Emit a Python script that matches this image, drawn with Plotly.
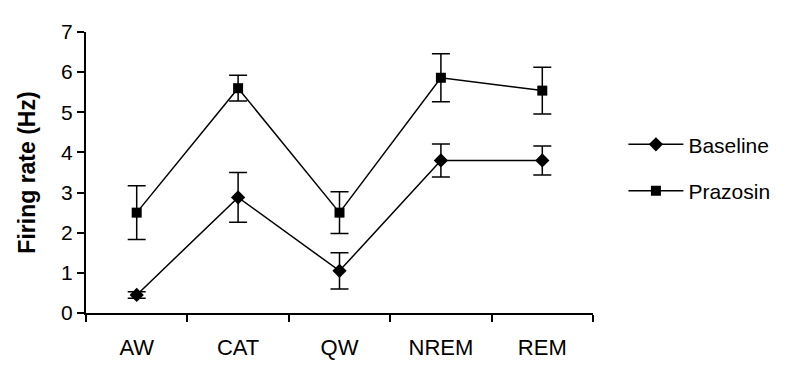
import plotly.graph_objects as go

categories = ["AW", "CAT", "QW", "NREM", "REM"]
baseline = [0.45, 2.88, 1.05, 3.80, 3.80]
baseline_err = [0.08, 0.62, 0.45, 0.41, 0.36]
prazosin = [2.50, 5.60, 2.50, 5.86, 5.54]
prazosin_err = [0.67, 0.32, 0.52, 0.60, 0.58]
y_ticks = [0, 1, 2, 3, 4, 5, 6, 7]

FONT = "Liberation Sans, Arial, sans-serif"

fig = go.Figure()
fig.add_trace(go.Scatter(
    x=categories, y=baseline, name="Baseline", mode="lines+markers",
    line=dict(color="black", width=1.5),
    marker=dict(symbol="diamond", size=11, color="black"),
    error_y=dict(type="data", array=baseline_err, color="black", thickness=1.5, width=9),
    legendgroup="a",
))
fig.add_trace(go.Scatter(
    x=categories, y=prazosin, name="Prazosin", mode="lines+markers",
    line=dict(color="black", width=1.5),
    marker=dict(symbol="square", size=10, color="black"),
    error_y=dict(type="data", array=prazosin_err, color="black", thickness=1.5, width=9),
    legendgroup="b",
))

fig.update_layout(
    width=787, height=366,
    margin=dict(l=78, r=202, t=14, b=61),
    plot_bgcolor="white", paper_bgcolor="white",
    font=dict(family=FONT, color="black"),
    showlegend=True,
    legend=dict(x=1.06, y=0.517, xanchor="left", yanchor="middle",
                font=dict(size=21, family=FONT), itemwidth=55,
                tracegroupgap=16, traceorder="grouped", bgcolor="rgba(0,0,0,0)"),
    xaxis=dict(
        type="category", range=[-0.5, 4.5], showline=True, linecolor="black", linewidth=2,
        ticks="outside", tickson="boundaries", ticklen=7, tickwidth=1.5, tickcolor="black",
        tickfont=dict(size=22, family=FONT), ticklabelstandoff=14,
        showgrid=False, zeroline=False,
    ),
    yaxis=dict(
        range=[0, 7], tickvals=y_ticks, showline=True, linecolor="black", linewidth=2,
        ticks="outside", ticklen=7, tickwidth=1.5, tickcolor="black",
        tickfont=dict(size=21, family=FONT), showgrid=False, zeroline=False,
        title=dict(text="<b>Firing rate (Hz)</b>", font=dict(size=23, family=FONT), standoff=19),
    ),
)

fig.write_html("out.html")
